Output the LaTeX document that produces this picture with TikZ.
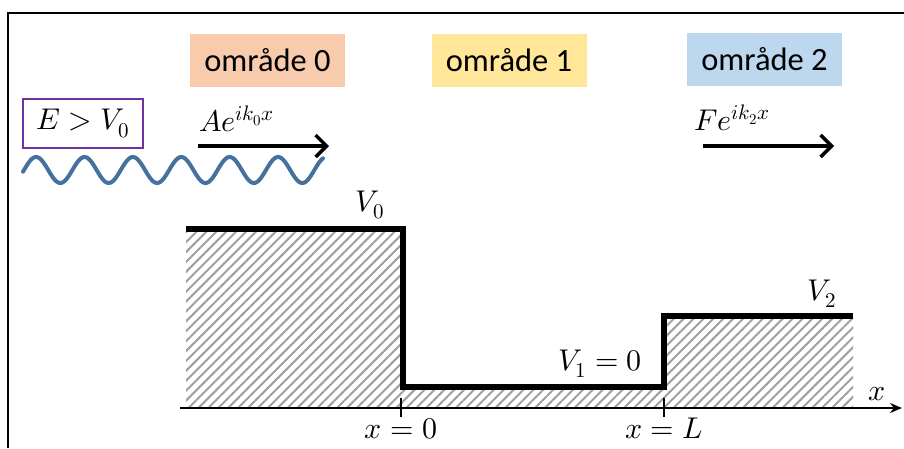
\documentclass[tikz,border=0pt]{standalone}
\usepackage{fontspec}
\usepackage{unicode-math}
\setmainfont{Carlito}
\setmathfont{Latin Modern Math}
\usetikzlibrary{arrows.meta,patterns.meta}
\definecolor{omrorange}{HTML}{F8CBAD}
\definecolor{omryellow}{HTML}{FFE699}
\definecolor{omrblue}{HTML}{BDD7EE}
\definecolor{wavepurple}{HTML}{7030A0}
\definecolor{waveblue}{RGB}{68,113,158}
\tikzset{
  region/.style={inner sep=0pt,minimum width=155pt,minimum height=53pt,font=\fontsize{32.5}{36}\selectfont},
  mathlabel/.style={inner sep=0pt,font=\fontsize{30}{34}\selectfont},
  wavearrow/.style={line width=3.5pt,-{Straight Barb[length=11pt,width=22pt,line width=3.5pt]}},
  wall/.style={line width=6pt,line join=miter}
}
\begin{document}
\begin{tikzpicture}[x=1pt,y=-1pt]
  \useasboundingbox (0,0) rectangle (904,448);
  % Frame
  \draw[line width=2pt] (8,448) -- (8,13) -- (904,13);
  % Regions
  \node[region,fill=omrorange] (omr0) at (267.5,60.5) {område 0};
  \node[region,fill=omryellow] (omr1) at (509,60.5) {område 1};
  \node[region,fill=omrblue] (omr2) at (764.5,59.5) {område 2};
  % Incoming wave
  \node[mathlabel,draw=wavepurple,line width=1.5pt,minimum width=120pt,minimum height=49pt] (energy) at (83,123.5) {$E>V_0$};
  \draw[waveblue,line width=4pt,line cap=round] plot[domain=23:323,samples=200] (\x,{170-13*sin(7.438*(\x-24))});
  \coordinate (a0s) at (198,146);
  \coordinate (a0e) at (329,146);
  \coordinate (a2s) at (703,146);
  \coordinate (a2e) at (834,146);
  \draw[wavearrow] (a0s) -- (a0e);
  \draw[wavearrow] (a2s) -- (a2e);
  \node[mathlabel,anchor=base west] (inwave) at (199,131) {$Ae^{ik_0x}$};
  \node[mathlabel,anchor=base west] (outwave) at (694,130) {$Fe^{ik_2x}$};
  % Potential
  \fill[pattern={Lines[angle=45,distance=7pt,line width=2pt]},pattern color=gray!75]
    (186,229) -- (403,229) -- (403,387) -- (664,387) -- (664,316) -- (853,316) -- (853,408) -- (186,408) -- cycle;
  \draw[wall] (186,229) -- (403,229) -- (403,387) -- (664,387) -- (664,316) -- (853,316);
  % Axis
  \coordinate (ax0) at (180,408);
  \coordinate (ax1) at (902,408);
  \draw[line width=2.5pt,-{Stealth[length=12pt,width=10pt]}] (ax0) -- (ax1);
  \draw[line width=2.5pt] (401,398) -- (401,417);
  \draw[line width=2.5pt] (664,398) -- (664,417);
  % Labels
  \node[mathlabel,anchor=base] (v0) at (370,211) {$V_0$};
  \node[mathlabel,anchor=base] (v2) at (822,300) {$V_2$};
  \node[mathlabel,anchor=base] (v1) at (600,370) {$V_1=0$};
  \node[mathlabel,anchor=base] (xlab) at (877,400) {$x$};
  \node[mathlabel,anchor=base] (xzero) at (401,438) {$x=0$};
  \node[mathlabel,anchor=base] (xell) at (664,438) {$x=L$};
\end{tikzpicture}
\end{document}
